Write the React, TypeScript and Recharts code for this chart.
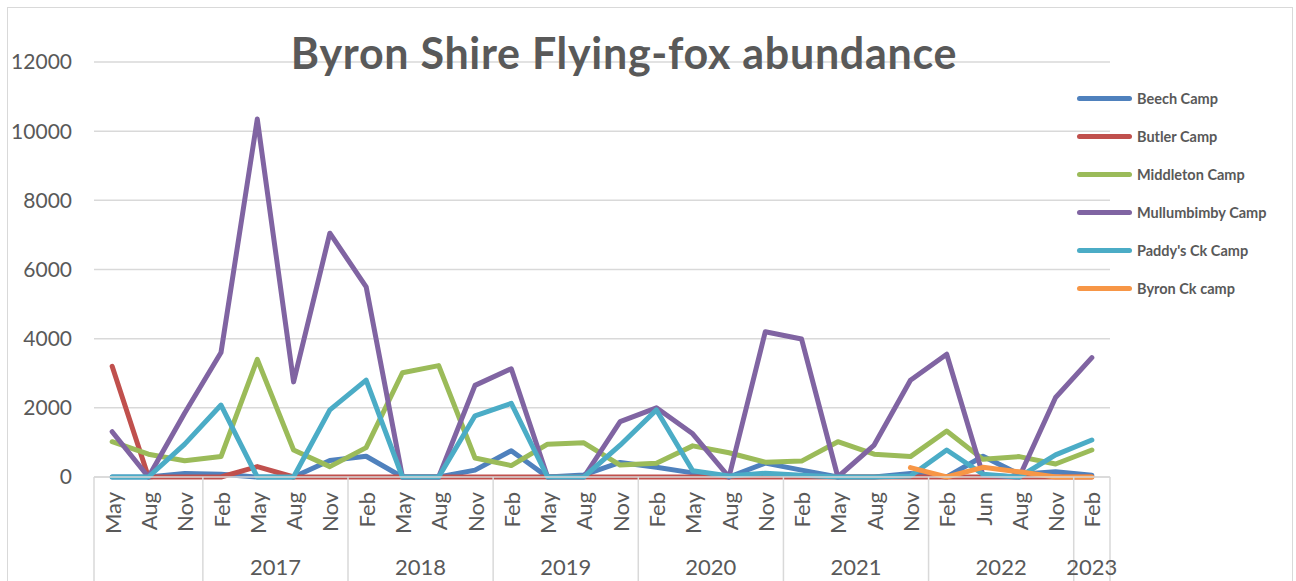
import React from "react";
import { LineChart, Line, XAxis, YAxis, CartesianGrid } from "recharts";

// survey months, grouped by year on the second axis row
const months = [
  "May", "Aug", "Nov",
  "Feb", "May", "Aug", "Nov",
  "Feb", "May", "Aug", "Nov",
  "Feb", "May", "Aug", "Nov",
  "Feb", "May", "Aug", "Nov",
  "Feb", "May", "Aug", "Nov",
  "Feb", "Jun", "Aug", "Nov",
  "Feb",
];
const years = [
  "", "", "",
  "2017", "2017", "2017", "2017",
  "2018", "2018", "2018", "2018",
  "2019", "2019", "2019", "2019",
  "2020", "2020", "2020", "2020",
  "2021", "2021", "2021", "2021",
  "2022", "2022", "2022", "2022",
  "2023",
];

const beech = [0, 0, 100, 80, 0, 0, 480, 600, 0, 0, 200, 760, 0, 60, 420, 280, 120, 0, 400, 200, 0, 0, 100, 0, 600, 80, 150, 50];
const butler = [3200, 0, 0, 0, 300, 0, 0, 0, 0, 0, 0, 0, 0, 0, 0, 0, 0, 0, 0, 0, 0, 0, 0, 0, 0, 0, 0, 0];
const middleton = [1020, 660, 470, 590, 3400, 780, 300, 850, 3015, 3220, 550, 330, 950, 990, 345, 400, 900, 700, 430, 460, 1020, 660, 590, 1330, 510, 590, 375, 780];
const mullumbimby = [1310, 0, 1850, 3600, 10350, 2750, 7050, 5500, 0, 0, 2650, 3130, 0, 0, 1600, 2000, 1250, 0, 4200, 3990, 0, 925, 2800, 3550, 50, 0, 2300, 3450];
const paddys = [0, 0, 950, 2080, 0, 0, 1940, 2800, 0, 0, 1770, 2130, 0, 0, 920, 1940, 180, 30, 110, 50, 0, 0, 30, 780, 80, 0, 640, 1070];
const byronCk = [null, null, null, null, null, null, null, null, null, null, null, null, null, null, null, null, null, null, null, null, null, null, 270, 0, 280, 150, 0, 0];

const yTicks = [0, 2000, 4000, 6000, 8000, 10000, 12000];

const series = [
  { key: "beech", name: "Beech Camp", color: "#4f81bd", values: beech },
  { key: "butler", name: "Butler Camp", color: "#c0504d", values: butler },
  { key: "middleton", name: "Middleton Camp", color: "#9bbb59", values: middleton },
  { key: "mullumbimby", name: "Mullumbimby Camp", color: "#8064a2", values: mullumbimby },
  { key: "paddys", name: "Paddy's Ck Camp", color: "#4bacc6", values: paddys },
  { key: "byron", name: "Byron Ck camp", color: "#f79646", values: byronCk },
];

const data = months.map((m, i) => {
  const row: Record<string, any> = { month: m, year: years[i] };
  series.forEach((s) => (row[s.key] = s.values[i]));
  return row;
});

const W = 1296;
const H = 581;
const Y_W = 94;
const MARGIN = { top: 62, right: 186, bottom: 0, left: 0 };
const MONTH_H = 70;
const YEAR_H = 34;
const STEP = (W - MARGIN.left - MARGIN.right - Y_W) / months.length;
const PAD = { left: STEP / 2, right: STEP / 2 };
const FONT = "Lato, 'Open Sans', sans-serif";
const TXT = "#595959";
const GRID = "#d9d9d9";

function MonthTick(props: any) {
  const { x, y, payload } = props;
  return (
    <text
      x={x}
      y={y}
      transform={`rotate(-90 ${x} ${y})`}
      textAnchor="end"
      dominantBaseline="central"
      fill={TXT}
      fontSize={22}
      fontFamily={FONT}
    >
      {payload.value}
    </text>
  );
}

// year row: label centred over its group, separator lines at group edges
function YearTick(props: any) {
  const { x, y, index } = props;
  const yr = years[index];
  const start = index === 0 || years[index - 1] !== yr;
  const last = index === years.length - 1;
  let n = 1;
  while (years[index + n] === yr) n++;
  return (
    <g>
      {start && (
        <line x1={x - STEP / 2} x2={x - STEP / 2} y1={y - MONTH_H} y2={y + YEAR_H + 10} stroke={GRID} strokeWidth={1.5} />
      )}
      {last && (
        <line x1={x + STEP / 2} x2={x + STEP / 2} y1={y - MONTH_H} y2={y + YEAR_H + 10} stroke={GRID} strokeWidth={1.5} />
      )}
      {start && yr && (
        <text x={x + ((n - 1) * STEP) / 2} y={y + 28} textAnchor="middle" fill={TXT} fontSize={22} fontFamily={FONT}>
          {yr}
        </text>
      )}
    </g>
  );
}

export default function App() {
  return (
    <div style={{ position: "absolute", left: 0, top: 0, width: W, height: H, background: "#fff", overflow: "hidden" }}>
      <div
        style={{
          position: "absolute",
          left: 7,
          top: 7,
          width: 1284,
          height: 640,
          border: `1.5px solid ${GRID}`,
        }}
      />
      <LineChart width={W} height={H} data={data} margin={MARGIN}>
        <CartesianGrid horizontal vertical={false} stroke={GRID} strokeWidth={1.5} />
        <XAxis
          dataKey="month"
          xAxisId={0}
          interval={0}
          padding={PAD}
          height={MONTH_H}
          tickLine={false}
          tickSize={0}
          tickMargin={15}
          axisLine={{ stroke: GRID, strokeWidth: 1.5 }}
          tick={<MonthTick />}
        />
        <XAxis
          dataKey="year"
          xAxisId="year"
          interval={0}
          padding={PAD}
          height={YEAR_H}
          tickLine={false}
          tickSize={0}
          tickMargin={0}
          axisLine={false}
          tick={<YearTick />}
        />
        <YAxis
          width={Y_W}
          domain={[0, 12000]}
          ticks={yTicks}
          axisLine={false}
          tickLine={false}
          tickSize={0}
          tickMargin={22}
          tick={{ fill: TXT, fontSize: 21, fontFamily: FONT }}
        />
        {series.map((s) => (
          <Line
            key={s.key}
            dataKey={s.key}
            name={s.name}
            xAxisId={0}
            stroke={s.color}
            strokeWidth={5}
            strokeLinecap="round"
            strokeLinejoin="round"
            dot={false}
            isAnimationActive={false}
          />
        ))}
      </LineChart>
      <div
        style={{
          position: "absolute",
          left: 0,
          width: 1248,
          top: 29,
          textAlign: "center",
          fontFamily: FONT,
          fontWeight: 700,
          fontSize: 43,
          letterSpacing: 0.7,
          color: TXT,
          lineHeight: "48px",
        }}
      >
        Byron Shire Flying-fox abundance
      </div>
      <div style={{ position: "absolute", left: 1077, top: 79 }}>
        {series.map((s) => (
          <div key={s.key} style={{ display: "flex", alignItems: "center", height: 38 }}>
            <div style={{ width: 55, height: 5, borderRadius: 3, background: s.color }} />
            <span style={{ marginLeft: 5, fontFamily: FONT, fontWeight: 700, fontSize: 14.5, color: TXT, whiteSpace: "nowrap" }}>
              {s.name}
            </span>
          </div>
        ))}
      </div>
    </div>
  );
}
